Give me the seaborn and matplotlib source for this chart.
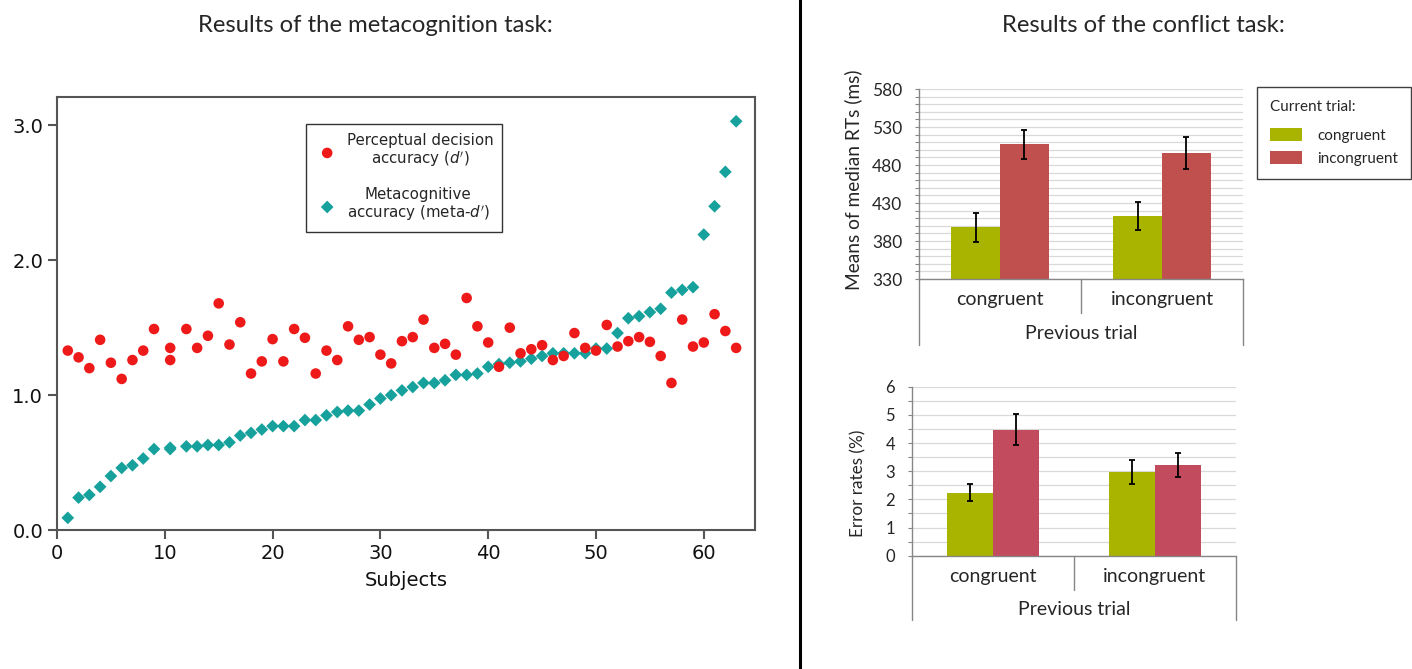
import numpy as np
import pandas as pd
import matplotlib.pyplot as plt
import seaborn as sns
from matplotlib.lines import Line2D
from matplotlib.ticker import MultipleLocator, FormatStrFormatter

# --- metacognition task: one point per subject ---
subjects = [1, 2, 3, 4, 5, 6, 7, 8, 9, 10.5, 10.5] + list(range(12, 64))
d_prime = [1.33, 1.28, 1.20, 1.41, 1.24, 1.12, 1.26, 1.33, 1.49, 1.35, 1.26,
           1.49, 1.35, 1.44, 1.68, 1.375, 1.54, 1.16, 1.25, 1.415, 1.25, 1.49,
           1.425, 1.16, 1.33, 1.26, 1.51, 1.41, 1.43, 1.30, 1.235, 1.40, 1.43,
           1.56, 1.35, 1.38, 1.30, 1.72, 1.51, 1.39, 1.21, 1.50, 1.31, 1.34,
           1.37, 1.26, 1.29, 1.46, 1.35, 1.33, 1.52, 1.36, 1.40, 1.43, 1.395,
           1.29, 1.09, 1.56, 1.36, 1.39, 1.60, 1.475, 1.35]
meta_d = [0.09, 0.24, 0.26, 0.32, 0.40, 0.46, 0.48, 0.53, 0.60, 0.60, 0.61,
          0.62, 0.62, 0.63, 0.63, 0.65, 0.70, 0.72, 0.745, 0.77, 0.77, 0.77,
          0.815, 0.815, 0.85, 0.875, 0.885, 0.885, 0.93, 0.975, 1.00, 1.035, 1.06,
          1.09, 1.09, 1.11, 1.15, 1.15, 1.16, 1.21, 1.23, 1.24, 1.25, 1.27,
          1.29, 1.31, 1.31, 1.31, 1.31, 1.345, 1.345, 1.46, 1.57, 1.585, 1.615,
          1.64, 1.76, 1.78, 1.80, 2.19, 2.40, 2.655, 3.03]

# --- conflict task ---
prev_trial = ['congruent', 'incongruent']
current_levels = ['congruent', 'incongruent']
rt_congruent = [398, 413]
rt_incongruent = [507, 496]
rt_ci_congruent = [19, 18]
rt_ci_incongruent = [19, 21]
er_congruent = [2.24, 2.96]
er_incongruent = [4.47, 3.21]
er_ci_congruent = [0.31, 0.42]
er_ci_incongruent = [0.55, 0.43]
rt_ticks = [330, 380, 430, 480, 530, 580]
er_ticks = [0, 1, 2, 3, 4, 5, 6]

rt_df = pd.DataFrame({'Previous trial': prev_trial * 2,
                      'Current trial': [current_levels[0]] * 2 + [current_levels[1]] * 2,
                      'value': rt_congruent + rt_incongruent,
                      'ci': rt_ci_congruent + rt_ci_incongruent})
er_df = pd.DataFrame({'Previous trial': prev_trial * 2,
                      'Current trial': [current_levels[0]] * 2 + [current_levels[1]] * 2,
                      'value': er_congruent + er_incongruent,
                      'ci': er_ci_congruent + er_ci_incongruent})

sns.set_style('white')
plt.rcParams['font.family'] = ['DejaVu Sans']
plt.rcParams['mathtext.fontset'] = 'dejavusans'

RED = '#EE1A1A'
TEAL = '#17A19C'
GREEN = '#A9B400'
RED_RT = '#C0504D'
RED_ER = '#C24B5D'
AXGRAY = '#868686'
GRID = '#D9D9D9'
RFONT = 'Lato'

W, H = 1412, 669
fig = plt.figure(figsize=(W / 100, H / 100), dpi=100)


def px_axes(l, t, r, b):
    return fig.add_axes([l / W, 1 - b / H, (r - l) / W, (b - t) / H])


# 1 SCATTER #
ax = px_axes(57, 97, 755, 530)
sns.scatterplot(x=subjects, y=meta_d, marker='D', s=42, color=TEAL, edgecolor='none',
                ax=ax, label="Metacognitive\naccuracy (meta-$d'$)", zorder=3)
sns.scatterplot(x=subjects, y=d_prime, marker='o', s=58, color=RED, edgecolor='none',
                ax=ax, label="Perceptual decision\naccuracy ($d'$)", zorder=4)
ax.set_xlim(0, 64.75)
ax.set_ylim(0, 3.21)
ax.set_xticks(range(0, 61, 10))
ax.set_yticks([0, 1, 2, 3])
ax.yaxis.set_major_formatter(FormatStrFormatter('%.1f'))
ax.tick_params(bottom=True, left=True, direction='out', length=6.5, width=1.5,
               color='#555555', labelsize=14, pad=3.5, labelcolor='#111111')
for sp in ax.spines.values():
    sp.set_color('#555555')
    sp.set_linewidth(1.5)
ax.set_xlabel('Subjects', fontsize=14, labelpad=6, color='#111111')
ax.set_ylabel('')

handles, labels = ax.get_legend_handles_labels()
leg = ax.legend(handles[::-1], labels[::-1], loc='upper left', bbox_to_anchor=(0.357, 0.938),
                fontsize=10.8, frameon=True, fancybox=False, edgecolor='#333333',
                framealpha=1, borderpad=0.6, labelspacing=1.2, handlelength=1.6,
                handletextpad=0.5, borderaxespad=0)
leg.get_frame().set_linewidth(1.0)
for t in leg.get_texts():
    t.set_multialignment('center')
    t.set_linespacing(1.1)

fig.text(375 / W, 1 - 25 / H, 'Results of the metacognition task:', ha='center', va='center',
         family=RFONT, fontsize=17.2)
fig.text(1143 / W, 1 - 25 / H, 'Results of the conflict task:', ha='center', va='center',
         family=RFONT, fontsize=17.2)
fig.add_artist(Line2D([800 / W, 800 / W], [0, 1], color='black', lw=2.2))


# 2 BAR CHARTS #
def bar_panel(box, df, red, ylim, ticks, minor, width, ylabel, ylab_pos, low, mid,
              xlab_y, ticksize, catsize, ylabsize, legend=False):
    a = px_axes(*box)
    sns.barplot(data=df, x='Previous trial', y='value', hue='Current trial',
                order=prev_trial, hue_order=current_levels, palette=[GREEN, red],
                width=width, errorbar=None, saturation=1, linewidth=0, ax=a, legend=legend)
    lookup = dict(zip(df['value'], df['ci']))
    xs, ys, es = [], [], []
    for p in a.patches:
        h = p.get_height()
        if h in lookup:
            xs.append(p.get_x() + p.get_width() / 2)
            ys.append(h)
            es.append(lookup[h])
    a.errorbar(xs, ys, yerr=es, fmt='none', ecolor='black', elinewidth=1.3,
               capsize=2.4, capthick=1.3, zorder=5)
    a.set_xlim(-0.5, 1.5)
    a.set_ylim(*ylim)
    a.set_yticks(ticks)
    a.yaxis.set_minor_locator(MultipleLocator(minor))
    a.grid(axis='y', which='both', color=GRID, lw=0.9)
    a.set_axisbelow(True)
    for s in ['top', 'right']:
        a.spines[s].set_visible(False)
    for s in ['left', 'bottom']:
        a.spines[s].set_color(AXGRAY)
        a.spines[s].set_linewidth(1.0)
    a.tick_params(axis='y', which='both', left=True, length=3, width=0.8, color=AXGRAY,
                  labelsize=ticksize, pad=9)
    a.tick_params(axis='x', bottom=False, length=0, labelsize=catsize, pad=9)
    for lab in a.get_xticklabels() + a.get_yticklabels():
        lab.set_family(RFONT)
    # category box under the axis
    for x0, y0 in [(0, low), (0.5, mid), (1, low)]:
        a.plot([x0, x0], [0, y0], transform=a.transAxes, color=AXGRAY, lw=1.0, clip_on=False)
    a.set_xlabel('Previous trial', family=RFONT, fontsize=catsize)
    a.xaxis.set_label_coords(0.5, xlab_y)
    a.xaxis.label.set_va('center')
    a.set_ylabel(ylabel, family=RFONT, fontsize=ylabsize)
    a.yaxis.set_label_coords(*ylab_pos)
    a.yaxis.label.set_va('center')
    return a


ax1 = bar_panel((919, 89, 1243, 279), rt_df, RED_RT, (330, 580), rt_ticks, 10, 0.6,
                'Means of median RTs (ms)', (-0.204, 0.521), -0.347, -0.179, -0.287,
                12.5, 14, 13.8, legend=True)
sns.move_legend(ax1, 'upper left', bbox_to_anchor=(1.042, 1.009), title='Current trial:',
                frameon=True, fancybox=False, edgecolor='#404040', framealpha=1,
                borderpad=0.85, labelspacing=0.55, handlelength=2.1, handleheight=0.9,
                handletextpad=1.0, borderaxespad=0, alignment='left',
                prop={'family': RFONT, 'size': 11},
                title_fontproperties={'family': RFONT, 'size': 11})
lg = ax1.get_legend()
lg.get_frame().set_linewidth(1.0)
lg._legend_box.sep = 10

ax2 = bar_panel((911.7, 386.7, 1236, 555.7), er_df, RED_ER, (0, 6), er_ticks, 0.5, 0.57,
                'Error rates (%)', (-0.165, 0.43), -0.380, -0.203, -0.317,
                12, 14, 12.3)

fig.savefig('out.png', dpi=100)
